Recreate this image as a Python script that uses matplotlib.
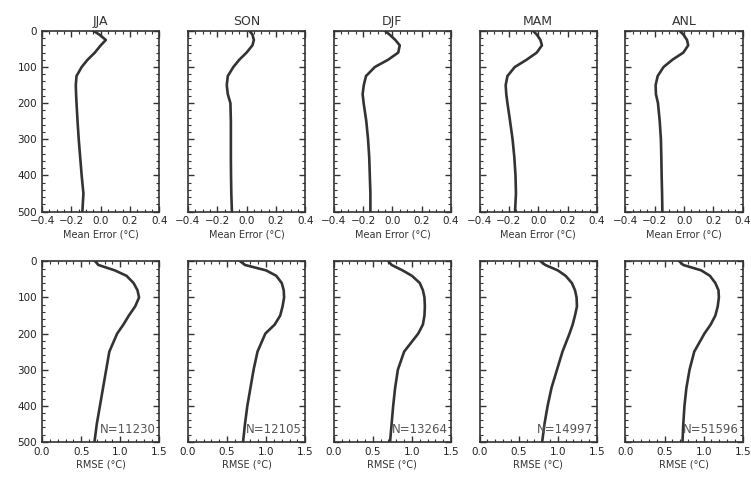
import numpy as np
import matplotlib.pyplot as plt
from matplotlib.ticker import MultipleLocator

# adancimi (m)
depth = [0, 10, 25, 40, 60, 80, 100, 125, 150, 175, 200, 250, 300, 350, 400, 450, 500]

seasons = ['JJA', 'SON', 'DJF', 'MAM', 'ANL']
n_obs = ['N=11230', 'N=12105', 'N=13264', 'N=14997', 'N=51596']

# eroarea medie (grade C)
me_jja = [-0.05, -0.01, 0.035, 0.0, -0.04, -0.09, -0.13, -0.165, -0.17, -0.168, -0.165, -0.158, -0.15, -0.14, -0.13, -0.118, -0.125]
me_son = [0.02, 0.04, 0.05, 0.04, 0.0, -0.05, -0.09, -0.128, -0.135, -0.128, -0.11, -0.107, -0.107, -0.107, -0.106, -0.104, -0.10]
me_djf = [-0.05, -0.02, 0.02, 0.05, 0.04, -0.03, -0.12, -0.18, -0.195, -0.203, -0.196, -0.178, -0.166, -0.158, -0.154, -0.15, -0.15]
me_mam = [-0.035, -0.01, 0.015, 0.025, -0.01, -0.08, -0.16, -0.21, -0.222, -0.218, -0.21, -0.192, -0.175, -0.163, -0.155, -0.152, -0.158]
me_anl = [-0.03, -0.005, 0.02, 0.028, -0.005, -0.08, -0.14, -0.18, -0.194, -0.192, -0.178, -0.166, -0.158, -0.155, -0.153, -0.15, -0.148]

# RMSE (grade C)
rmse_jja = [0.68, 0.72, 0.93, 1.08, 1.17, 1.22, 1.24, 1.19, 1.11, 1.04, 0.96, 0.86, 0.82, 0.78, 0.74, 0.70, 0.67]
rmse_son = [0.67, 0.73, 1.0, 1.13, 1.2, 1.225, 1.23, 1.21, 1.18, 1.11, 0.99, 0.89, 0.84, 0.8, 0.76, 0.73, 0.705]
rmse_djf = [0.70, 0.74, 0.88, 1.0, 1.10, 1.14, 1.16, 1.165, 1.16, 1.14, 1.08, 0.90, 0.82, 0.785, 0.76, 0.74, 0.72]
rmse_mam = [0.78, 0.84, 1.0, 1.1, 1.18, 1.22, 1.24, 1.245, 1.22, 1.19, 1.15, 1.06, 0.99, 0.92, 0.87, 0.83, 0.80]
rmse_anl = [0.69, 0.74, 0.97, 1.08, 1.15, 1.19, 1.195, 1.18, 1.15, 1.09, 1.01, 0.88, 0.82, 0.78, 0.755, 0.74, 0.73]

me_all = [me_jja, me_son, me_djf, me_mam, me_anl]
rmse_all = [rmse_jja, rmse_son, rmse_djf, rmse_mam, rmse_anl]

plt.rcParams['font.family'] = 'DejaVu Sans'
plt.rcParams['font.size'] = 7.5
dark = '#333333'

fig, axes = plt.subplots(2, 5, figsize=(7.51, 4.83), dpi=100)
fig.subplots_adjust(left=0.056, right=0.989, top=0.936, bottom=0.085, wspace=0.243, hspace=0.276)


def style_ax(ax, first_col):
    ax.set_ylim(500, 0)
    ax.yaxis.set_major_locator(MultipleLocator(100))
    ax.yaxis.set_minor_locator(MultipleLocator(20))
    ax.tick_params(which='both', direction='in', top=True, right=True, colors=dark, labelcolor='#222222')
    ax.tick_params(which='major', length=4, width=1)
    ax.tick_params(which='minor', length=2, width=0.8)
    for s in ax.spines.values():
        s.set_color(dark)
        s.set_linewidth(1.2)
    if not first_col:
        ax.set_yticklabels([])


for i in range(5):
    # randul de sus - eroarea medie
    ax = axes[0, i]
    ax.plot(me_all[i], depth, color=dark, linewidth=1.9)
    ax.set_xlim(-0.4, 0.4)
    ax.xaxis.set_minor_locator(MultipleLocator(0.05))
    ax.set_xticks([-0.4, -0.2, 0.0, 0.2, 0.4])
    ax.set_xticklabels(['\u22120.4', '\u22120.2', '0.0', '0.2', '0.4'])
    ax.set_title(seasons[i], fontsize=9, color='#333333', pad=4)
    ax.set_xlabel('Mean Error (\u00b0C)', fontsize=7, color='#333333', labelpad=2)
    style_ax(ax, i == 0)

    # randul de jos - RMSE
    ax = axes[1, i]
    ax.plot(rmse_all[i], depth, color=dark, linewidth=1.9)
    ax.set_xlim(0, 1.5)
    ax.xaxis.set_major_locator(MultipleLocator(0.5))
    ax.xaxis.set_minor_locator(MultipleLocator(0.1))
    ax.set_xlabel('RMSE (\u00b0C)', fontsize=7, color='#333333', labelpad=2)
    ax.text(0.97, 0.07, n_obs[i], transform=ax.transAxes, ha='right', va='center',
            fontsize=8.5, color='#555555')
    style_ax(ax, i == 0)

plt.savefig('out.png', dpi=100)
